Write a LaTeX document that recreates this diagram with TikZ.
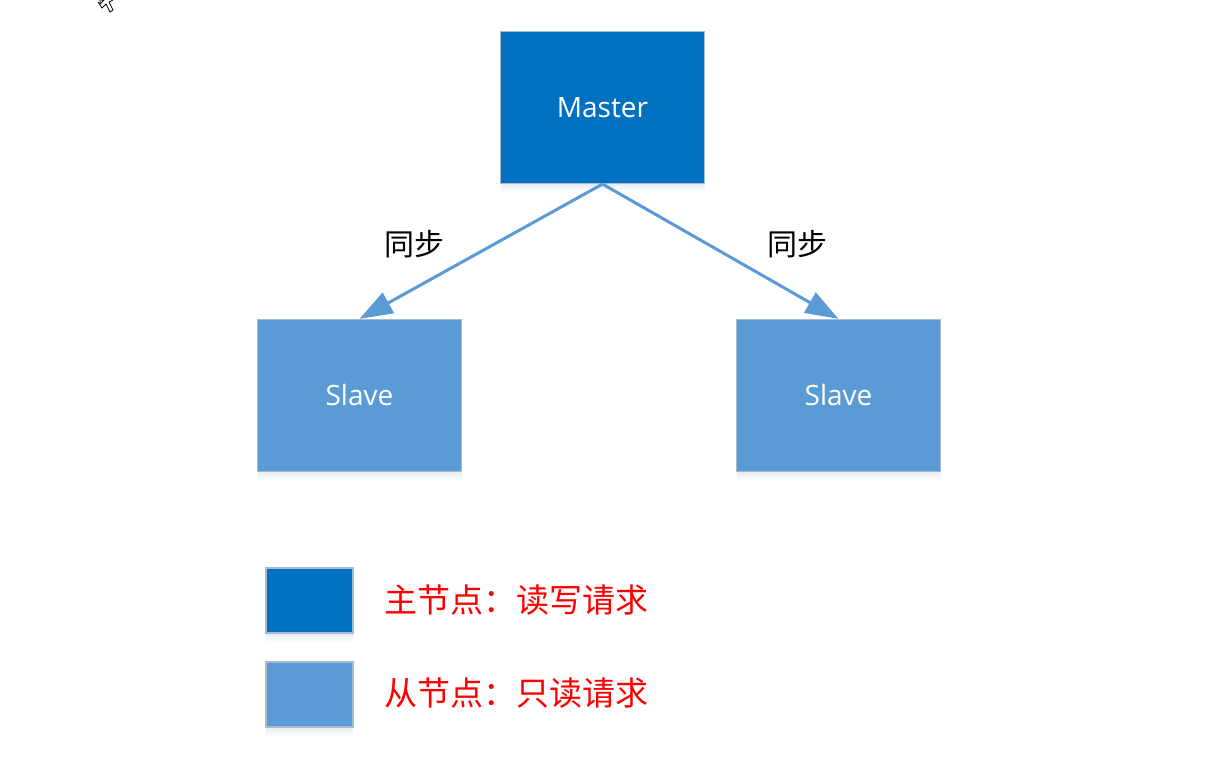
\documentclass[tikz,border=0pt]{standalone}
\usepackage{fontspec}
\setmainfont{Open Sans}
\newfontfamily\cjk{Noto Sans CJK SC}
\usetikzlibrary{arrows.meta}
\definecolor{mblue}{HTML}{0070C0}
\definecolor{sblue}{HTML}{5B9BD5}
\definecolor{bgray}{HTML}{A9BCCF}
\definecolor{shad}{HTML}{9DB8D6}
\definecolor{lred}{HTML}{FF0000}
\tikzset{
  softshadow/.style={
    preaction={draw=none, fill=shad, fill opacity=0.10, transform canvas={yshift=-3pt}},
    preaction={draw=none, fill=shad, fill opacity=0.08, transform canvas={yshift=-6pt}},
    preaction={draw=none, fill=shad, fill opacity=0.06, transform canvas={yshift=-9pt}}},
  box/.style={softshadow, draw=bgray, line width=1.2pt, minimum width=204pt, minimum height=152pt, inner sep=0pt},
  mbox/.style={box, fill=mblue},
  sbox/.style={box, fill=sblue},
  lbox/.style={softshadow, draw=bgray, line width=1.2pt, minimum width=87pt, minimum height=65pt, inner sep=0pt},
  boxtext/.style={text=white, font=\fontsize{28}{32}\selectfont},
  conn/.style={draw=sblue, line width=3pt, -{Triangle[length=33pt,width=23pt]}},
  synclabel/.style={font=\cjk\fontsize{30}{36}\selectfont, text=black},
  legtext/.style={font=\cjk\fontsize{33}{38}\selectfont, text=lred, anchor=west, inner sep=0pt},
}
\begin{document}
\begin{tikzpicture}[x=1pt,y=1pt]
\useasboundingbox[fill=white] (0,0) rectangle (1206,775);
\node[mbox, boxtext] (master) at (602.5,667.5) {Master};
\node[sbox, boxtext] (slaveL) at (359.5,379.5) {Slave};
\node[sbox, boxtext] (slaveR) at (838.5,379.5) {Slave};
\draw[conn] (master.south) -- (slaveL.north);
\draw[conn] (master.south) -- (slaveR.north);
\node[synclabel] (syncL) at (414,531) {同步};
\node[synclabel] (syncR) at (797,531) {同步};
\node[lbox, fill=mblue] (legM) at (309.5,174.5) {};
\node[lbox, fill=sblue] (legS) at (309.5,80.5) {};
\node[legtext] (legMt) at (384,175) {主节点：读写请求};
\node[legtext] (legSt) at (384,82) {从节点：只读请求};
% mouse cursor remnant
\draw[black, line width=0.8pt, fill=white] (100,775) -- (100,771) -- (104,775) -- cycle;
\draw[black, line width=0.8pt] (98,773) -- (102,767) -- (106,771) -- (110,763) -- (113,765) -- (109,773) -- (113,775);
\end{tikzpicture}
\end{document}
